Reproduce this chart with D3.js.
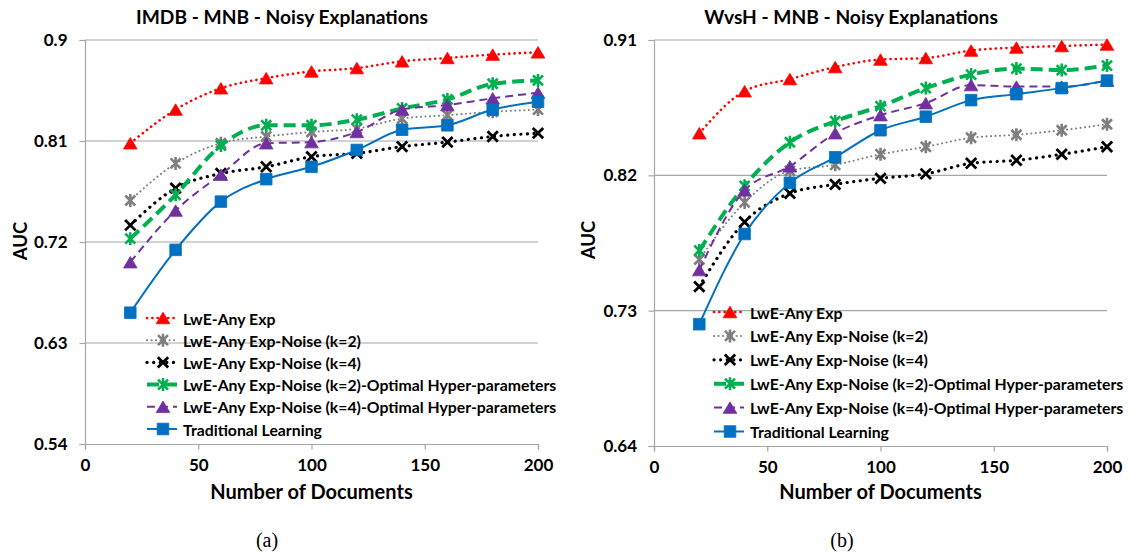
<!DOCTYPE html>
<html>
<head>
<meta charset="utf-8">
<script src="https://cdn.jsdelivr.net/npm/d3@7"></script>
<style>
  html, body { margin: 0; padding: 0; background: #ffffff; }
  svg { display: block; }
</style>
</head>
<body>
<svg id="chart" width="1133" height="554"></svg>
<script>
// ---------------- DATA ----------------
const docCounts = [20, 40, 60, 80, 100, 120, 140, 160, 180, 200];

const seriesNames = [
  "LwE-Any Exp",
  "LwE-Any Exp-Noise (k=2)",
  "LwE-Any Exp-Noise (k=4)",
  "LwE-Any Exp-Noise (k=2)-Optimal Hyper-parameters",
  "LwE-Any Exp-Noise (k=4)-Optimal Hyper-parameters",
  "Traditional Learning"
];

// (a) IMDB - MNB
const imdbLweAny   = [0.808, 0.838, 0.857, 0.866, 0.872, 0.875, 0.881, 0.884, 0.887, 0.889];
const imdbNoiseK2  = [0.757, 0.790, 0.808, 0.814, 0.818, 0.821, 0.830, 0.833, 0.836, 0.838];
const imdbNoiseK4  = [0.735, 0.768, 0.781, 0.787, 0.796, 0.799, 0.805, 0.809, 0.814, 0.817];
const imdbOptK2    = [0.723, 0.762, 0.806, 0.824, 0.824, 0.829, 0.839, 0.847, 0.861, 0.864];
const imdbOptK4    = [0.702, 0.748, 0.780, 0.808, 0.809, 0.818, 0.838, 0.842, 0.848, 0.853];
const imdbTrad     = [0.657, 0.713, 0.756, 0.776, 0.787, 0.802, 0.820, 0.824, 0.838, 0.845];

// (b) WvsH - MNB
const wvshLweAny   = [0.848, 0.876, 0.884, 0.892, 0.897, 0.898, 0.903, 0.905, 0.906, 0.907];
const wvshNoiseK2  = [0.764, 0.802, 0.823, 0.827, 0.834, 0.839, 0.845, 0.847, 0.850, 0.854];
const wvshNoiseK4  = [0.746, 0.789, 0.808, 0.814, 0.818, 0.821, 0.828, 0.830, 0.834, 0.839];
const wvshOptK2    = [0.770, 0.813, 0.842, 0.856, 0.866, 0.878, 0.887, 0.891, 0.890, 0.893];
const wvshOptK4    = [0.757, 0.810, 0.826, 0.848, 0.860, 0.868, 0.880, 0.879, 0.879, 0.883];
const wvshTrad     = [0.721, 0.781, 0.815, 0.832, 0.850, 0.859, 0.870, 0.874, 0.878, 0.883];

const imdbYTicks = [0.54, 0.63, 0.72, 0.81, 0.9];
const wvshYTicks = [0.64, 0.73, 0.82, 0.91];
const xTicks = [0, 50, 100, 150, 200];

const titles = ["IMDB - MNB - Noisy Explanations", "WvsH - MNB - Noisy Explanations"];
const captions = ["(a)", "(b)"];

// ---------------- STYLES ----------------
const styles = [
  { color: "#ff0000", width: 2.6, dash: "0.1,5.2", cap: "round", marker: "triangle" },
  { color: "#7f7f7f", width: 2,   dash: "0.1,4.4", cap: "round", marker: "star" },
  { color: "#000000", width: 3.2, dash: "0.1,6.5", cap: "round", marker: "x" },
  { color: "#00b050", width: 4,   dash: "12,6",    cap: "butt",  marker: "star" },
  { color: "#7030a0", width: 2,   dash: "8,5",     cap: "butt",  marker: "triangle" },
  { color: "#0070c0", width: 2,   dash: null,      cap: "butt",  marker: "square" }
];

const FONT = "Lato, 'Open Sans', 'DejaVu Sans', sans-serif";
const GRID = "#a6a6a6";

const svg = d3.select("#chart");

function markerPath(type) {
  const p = d3.path();
  if (type === "triangle") {
    const w = 6.8, h = 11.5;
    p.moveTo(0, -h / 2); p.lineTo(w, h / 2); p.lineTo(-w, h / 2); p.closePath();
  } else if (type === "square") {
    const s = 5.8;
    p.rect(-s, -s, 2 * s, 2 * s);
  } else if (type === "x") {
    const s = 5.2;
    p.moveTo(-s, -s); p.lineTo(s, s); p.moveTo(s, -s); p.lineTo(-s, s);
  } else if (type === "star") {
    const s = 5, v = 6.5;
    p.moveTo(-s, -s); p.lineTo(s, s); p.moveTo(s, -s); p.lineTo(-s, s);
    p.moveTo(0, -v); p.lineTo(0, v);
  }
  return p.toString();
}

function drawMarker(g, type, color, x, y) {
  const filled = type === "triangle" || type === "square";
  g.append("path")
    .attr("d", markerPath(type))
    .attr("transform", `translate(${x},${y})`)
    .attr("fill", filled ? color : "none")
    .attr("stroke", color)
    .attr("stroke-width", filled ? 0.8 : (type === "x" ? 2.8 : 2.6));
}

function drawChart(cfg) {
  const g = svg.append("g");
  const x = d3.scaleLinear().domain([0, 200]).range([cfg.x0, cfg.x1]);
  const y = d3.scaleLinear().domain([cfg.yTicks[0], cfg.yTicks[cfg.yTicks.length - 1]]).range([cfg.yBottom, cfg.yTop]);

  // gridlines
  g.append("g").selectAll("line").data(cfg.yTicks.slice(1)).join("line")
    .attr("x1", cfg.x0).attr("x2", cfg.x1)
    .attr("y1", d => y(d)).attr("y2", d => y(d))
    .attr("stroke", GRID).attr("stroke-width", 1.2);

  // y axis
  const yAxis = d3.axisLeft(y).tickValues(cfg.yTicks).tickSize(5.5).tickPadding(cfg.yPad)
    .tickFormat(d => String(+d.toFixed(2)));
  const ya = g.append("g").attr("transform", `translate(${cfg.x0},0)`).call(yAxis);
  ya.select(".domain").attr("stroke", GRID).attr("stroke-width", 1.2);
  ya.selectAll(".tick line").attr("stroke", GRID).attr("stroke-width", 1.2);
  ya.selectAll(".tick text").attr("font-family", FONT).attr("font-weight", "bold")
    .attr("font-size", 17).attr("fill", "#000");

  // x axis
  const xAxis = d3.axisBottom(x).tickValues(xTicks).tickSize(5.5).tickPadding(9).tickFormat(d3.format("d"));
  const xa = g.append("g").attr("transform", `translate(0,${cfg.yBottom})`).call(xAxis);
  xa.select(".domain").attr("stroke", GRID).attr("stroke-width", 1.2);
  xa.selectAll(".tick line").attr("stroke", GRID).attr("stroke-width", 1.2);
  xa.selectAll(".tick text").attr("font-family", FONT).attr("font-weight", "bold")
    .attr("font-size", 17).attr("fill", "#000");

  // series
  const line = d3.line().x((d, i) => x(docCounts[i])).y(d => y(d)).curve(d3.curveMonotoneX);
  cfg.series.forEach((vals, si) => {
    const st = styles[si];
    g.append("path").datum(vals)
      .attr("d", line)
      .attr("fill", "none")
      .attr("stroke", st.color)
      .attr("stroke-width", st.width)
      .attr("stroke-dasharray", st.dash)
      .attr("stroke-linecap", st.cap);
    const mg = g.append("g");
    vals.forEach((v, i) => drawMarker(mg, st.marker, st.color, x(docCounts[i]), y(v)));
  });

  // title
  g.append("text").attr("x", cfg.titleX).attr("y", 16)
    .attr("text-anchor", "middle").attr("dominant-baseline", "central")
    .attr("font-family", FONT).attr("font-weight", "bold").attr("font-size", 19.2)
    .text(cfg.title);

  // axis titles
  g.append("text").attr("x", (cfg.x0 + cfg.x1) / 2).attr("y", 491)
    .attr("text-anchor", "middle").attr("dominant-baseline", "central")
    .attr("font-family", FONT).attr("font-weight", "bold").attr("font-size", 20)
    .text("Number of Documents");
  g.append("text")
    .attr("transform", `translate(${cfg.aucX},${cfg.aucY}) rotate(-90)`)
    .attr("text-anchor", "middle").attr("dominant-baseline", "central")
    .attr("font-family", FONT).attr("font-weight", "bold").attr("font-size", 18.5)
    .text("AUC");

  // legend
  const lg = g.append("g");
  seriesNames.forEach((name, si) => {
    const st = styles[si];
    const ly = cfg.legendY + si * cfg.legendStep;
    lg.append("line")
      .attr("x1", cfg.legendX).attr("x2", cfg.legendX + 30)
      .attr("y1", ly).attr("y2", ly)
      .attr("stroke", st.color).attr("stroke-width", st.width)
      .attr("stroke-dasharray", st.dash).attr("stroke-linecap", st.cap);
    drawMarker(lg, st.marker, st.color, cfg.legendX + 16, ly);
    lg.append("text").attr("x", cfg.legendX + 36).attr("y", ly)
      .attr("dominant-baseline", "central")
      .attr("font-family", FONT).attr("font-weight", "bold").attr("font-size", 15.8)
      .text(name);
  });

  // caption
  g.append("text").attr("x", cfg.captionX).attr("y", 540)
    .attr("text-anchor", "middle").attr("dominant-baseline", "central")
    .attr("font-family", "'Liberation Serif', 'Times New Roman', serif").attr("font-size", 20)
    .text(cfg.caption);
}

drawChart({
  x0: 85, x1: 538, yTop: 40, yBottom: 444, yTicks: imdbYTicks, yPad: 12,
  series: [imdbLweAny, imdbNoiseK2, imdbNoiseK4, imdbOptK2, imdbOptK4, imdbTrad],
  title: titles[0], titleX: 282,
  aucX: 20, aucY: 241,
  legendX: 147, legendY: 318, legendStep: 22.2,
  caption: captions[0], captionX: 267
});

drawChart({
  x0: 654, x1: 1107, yTop: 40, yBottom: 446, yTicks: wvshYTicks, yPad: 11.5,
  series: [wvshLweAny, wvshNoiseK2, wvshNoiseK4, wvshOptK2, wvshOptK4, wvshTrad],
  title: titles[1], titleX: 851,
  aucX: 588, aucY: 240,
  legendX: 714, legendY: 312, legendStep: 23.9,
  caption: captions[1], captionX: 842
});
</script>
</body>
</html>
